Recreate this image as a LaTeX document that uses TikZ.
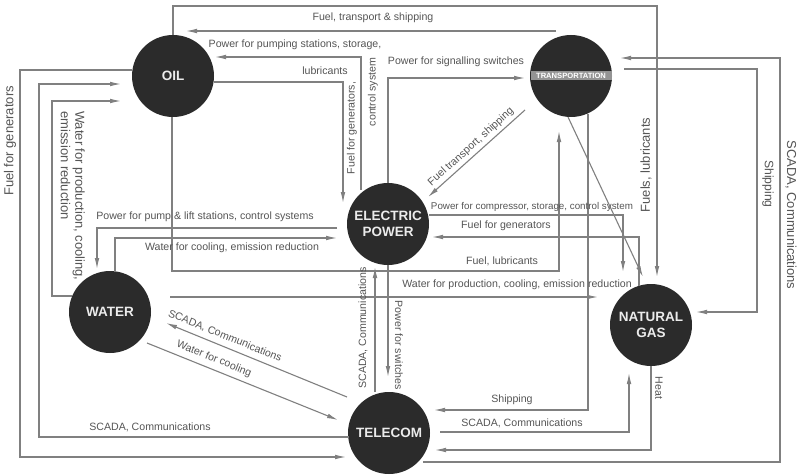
\documentclass[tikz,border=0pt]{standalone}
\usepackage{fontspec}
\setmainfont{Liberation Sans}
\usetikzlibrary{arrows.meta}
\definecolor{linecol}{HTML}{808080}
\definecolor{txtcol}{HTML}{555555}
\definecolor{nodecol}{HTML}{2B2B2B}
\begin{document}
\begin{tikzpicture}[x=1pt,y=-1pt,
  sys/.style={circle, fill=nodecol, minimum size=82pt, inner sep=0pt, text=white!92!black,
    font=\bfseries\fontsize{13.5}{16}\selectfont, align=center},
  ln/.style={draw=linecol, line width=1.1pt},
  arr/.style={ln, -{Latex[length=11pt,width=4.6pt]}},
  lbl/.style={text=txtcol, inner sep=0pt, font=\fontsize{10.6}{12}\selectfont},
  smlbl/.style={text=txtcol, inner sep=0pt, font=\fontsize{9.8}{11}\selectfont},
  biglbl/.style={text=txtcol, inner sep=0pt, font=\fontsize{13}{14.5}\selectfont}]
\useasboundingbox[fill=white] (0,0) rectangle (797,476);

% systems
\node[sys] (OIL) at (173,76) {OIL};
\node[sys] (TR) at (571,76) {};
\node[sys] (EP) at (388,224) {ELECTRIC\\POWER};
\node[sys] (WA) at (110,312) {WATER};
\node[sys] (NG) at (651,325) {NATURAL\\GAS};
\node[sys] (TE) at (389,433) {TELECOM};
\node[fill=black!42, text=white, inner sep=0pt, minimum width=81pt, minimum height=8.5pt,
  font=\bfseries\fontsize{7.6}{8}\selectfont] (TRtxt) at (571,75.5) {TRANSPORTATION};

% connectors
\draw[arr] (173,35) -- (173,6) -- (657,6) -- (657,277);            % OIL -> NG
\draw[arr] (556,31) -- (186,31);                                     % TR -> OIL
\draw[arr] (361,190) -- (361,57) -- (215,57);                        % EP -> OIL
\draw[arr] (214,82) -- (343,82) -- (343,203);                        % OIL -> EP
\draw[arr] (388,183) -- (388,78) -- (525,78);                        % EP -> TR
\draw[arr] (525,110) -- (428,197);                                   % TR -> EP
\draw[arr] (172,117) -- (172,271) -- (559,271) -- (559,131);         % OIL -> TR
\draw[arr] (337,228) -- (97,228) -- (97,269);                        % EP -> WA
\draw[arr] (115,272) -- (115,238) -- (337,238);                      % WA -> EP
\draw[arr] (72,296) -- (52,296) -- (52,101) -- (121,101);            % WA -> OIL
\draw[arr] (349,437) -- (39,437) -- (39,84) -- (121,84);             % TE -> OIL
\draw[arr] (132,70) -- (20,70) -- (20,457) -- (346,457);             % OIL -> TE
\draw[arr] (170,297) -- (598,297);                                   % WA -> NG
\draw[arr] (429,215) -- (623,215) -- (623,272);                      % EP -> NG
\draw[arr] (639,286) -- (639,237) -- (432,237);                      % NG -> EP
\draw[arr] (568,117) -- (643,277);                                   % TR -> NG
\draw[arr] (624,69) -- (757,69) -- (757,312) -- (696,312);           % TR -> NG
\draw[arr] (423,462) -- (780,462) -- (780,58) -- (620,58);           % TE -> TR
\draw[arr] (588,114) -- (588,410) -- (434,410);                      % TR -> TE
\draw[arr] (440,432) -- (629,432) -- (629,373);                      % TE -> NG
\draw[arr] (651,366) -- (651,450) -- (435,450);                      % NG -> TE
\draw[arr] (388,265) -- (388,377);                                   % EP -> TE
\draw[arr] (375,392) -- (375,267);                                   % TE -> EP
\draw[arr] (347,397) -- (166,323);                                   % TE -> WA
\draw[arr] (147,343) -- (338,420);                                   % WA -> TE

% labels
\node[lbl] (l1) at (373,18) {Fuel, transport \& shipping};
\node[lbl] (l2) at (295,45) {Power for pumping stations, storage,};
\node[lbl] (l3) at (325,71) {lubricants};
\node[lbl, rotate=90] (l4) at (373,92) {control system};
\node[lbl, rotate=90] (l5) at (352,128) {Fuel for generators,};
\node[lbl] (l6) at (456,62) {Power for signalling switches};
\node[lbl, rotate=42] (l7) at (471,147) {Fuel transport, shipping};
\node[lbl] (l8) at (205,217) {Power for pump \& lift stations, control systems};
\node[lbl] (l9) at (232,248) {Water for cooling, emission reduction};
\node[smlbl] (l10) at (532,207) {Power for compressor, storage, control system};
\node[lbl] (l11) at (506,226) {Fuel for generators};
\node[lbl] (l12) at (502,261) {Fuel, lubricants};
\node[lbl] (l13) at (517,285) {Water for production, cooling, emission reduction};
\node[lbl, rotate=-90] (l14) at (399,345) {Power for switches};
\node[lbl, rotate=90] (l15) at (363,328) {SCADA, Communications};
\node[lbl, rotate=-22] (l16) at (225,336) {SCADA, Communications};
\node[lbl, rotate=-22] (l17) at (214,359) {Water for cooling};
\node[lbl] (l18) at (150,427) {SCADA, Communications};
\node[lbl] (l19) at (512,400) {Shipping};
\node[lbl] (l20) at (522,423) {SCADA, Communications};
\node[lbl, rotate=-90] (l21) at (659,388) {Heat};
\node[lbl, rotate=-90, font=\fontsize{12.2}{13}\selectfont] (l22) at (768,184) {Shipping};
\node[biglbl, rotate=-90] (l23) at (791,215) {SCADA, Communications};
\node[biglbl, rotate=90] (l24) at (646,165) {Fuels, lubricants};
\node[biglbl, rotate=90] (l25) at (10,141) {Fuel for generators};
\node[biglbl, rotate=-90, align=left, anchor=north west] (l26) at (85,111)
  {Water for production, cooling,\\emission reduction};
\end{tikzpicture}
\end{document}
